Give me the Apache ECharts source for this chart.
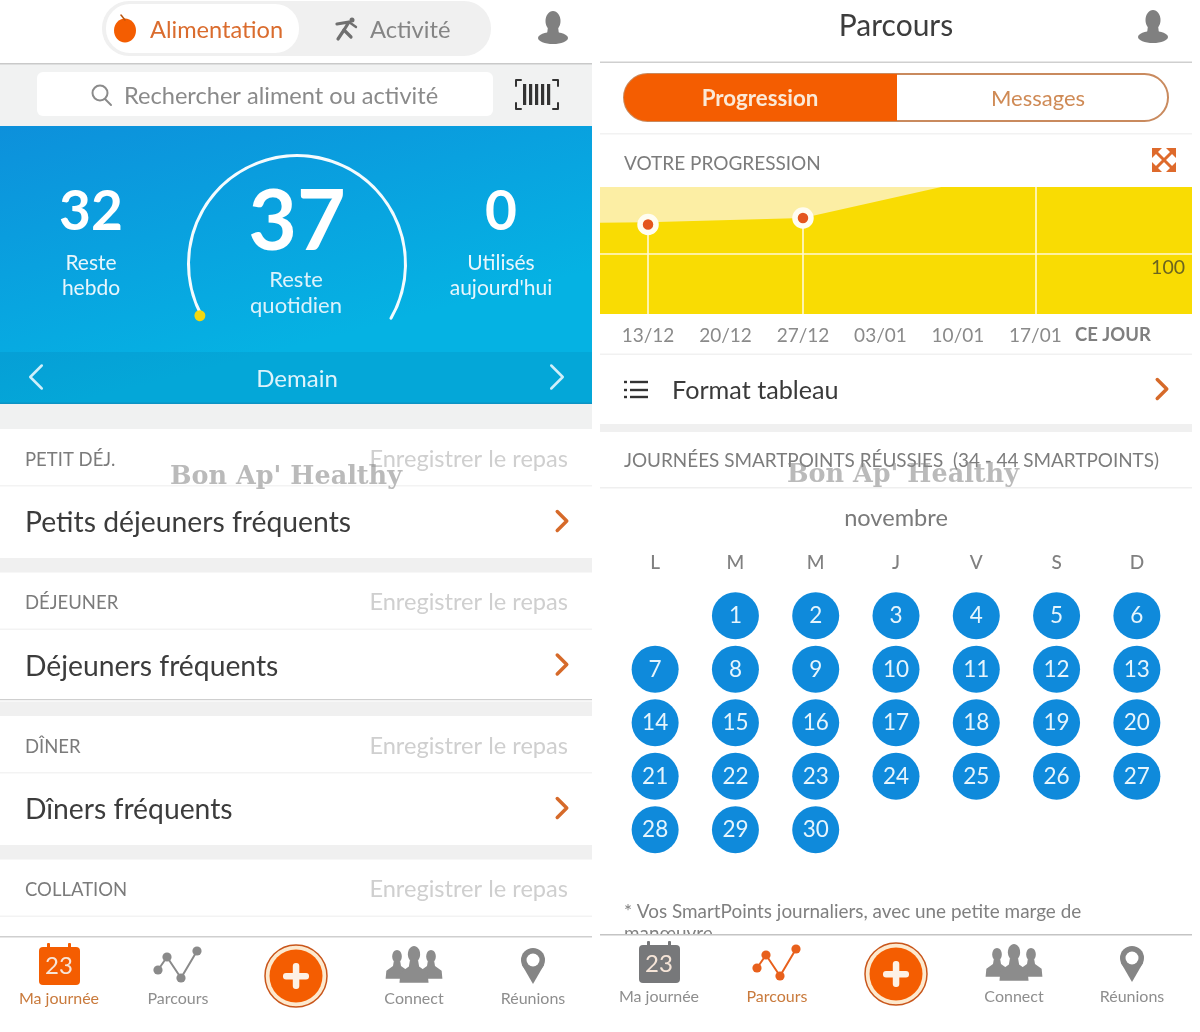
<!DOCTYPE html>
<html lang="fr"><head><meta charset="utf-8"><title>Suivi</title>
<style>html,body{margin:0;padding:0;background:#fff}#c{width:1200px;height:1032px}</style>
<script src="https://cdn.jsdelivr.net/npm/echarts@6/dist/echarts.min.js"></script></head>
<body><div id="c"></div><script>
// ---------- data ----------
const progressDays = [-4.34, 0, 14, 26.5, 49.15];
const progressValues = [126, 126.5, 130, 155.8, 155.8];
const weighDays = [0, 14];
const weighValues = [124.6, 130];
const tickDays = [0, 7, 14, 21, 28, 35, 42];
const tickLabels = ['13/12', '20/12', '27/12', '03/01', '10/01', '17/01', 'CE JOUR'];
const todayMarkDay = [35];
const refValues = [100];
const weekdays = ['L', 'M', 'M', 'J', 'V', 'S', 'D'];
const weekRows = ['s1', 's2', 's3', 's4', 's5'];
const monthWeeks = [
  [null, 1, 2, 3, 4, 5, 6],
  [7, 8, 9, 10, 11, 12, 13],
  [14, 15, 16, 17, 18, 19, 20],
  [21, 22, 23, 24, 25, 26, 27],
  [28, 29, 30, null, null, null, null]
];
const remainingDaily = 37, usedToday = 0;
const sideStats = [['32', 'Reste', 'hebdo', 91], ['0', 'Utilisés', "aujourd'hui", 501]];
const meals = ['PETIT DÉJ.', 'DÉJEUNER', 'DÎNER', 'COLLATION'];
const mealRows = ['Petits déjeuners fréquents', 'Déjeuners fréquents', 'Dîners fréquents'];
const navLabels = ['Ma journée', 'Parcours', 'Connect', 'Réunions'];

// ---------- chrome helpers ----------
const FONT = 'Lato', OR = '#F45D01', TXT = '#DA6C2E', G = '#808080';
const els = [];
const T = (text, x, y, size, fill, align, weight, z, font) => els.push({type:'text', z:z||5, style:{text, x, y:y+1, fontSize:size, fill,
  fontFamily:font||FONT, fontWeight:weight||'normal', align:align||'left', verticalAlign:'middle'}});
const R = (x, y, w, h, fill, r, z, stroke, lw) => els.push({type:'rect', z:z||1, shape:{x, y, width:w, height:h, r:r||0}, style:{fill, stroke, lineWidth:lw}});
const C = (cx, cy, r, fill, z, stroke, lw) => els.push({type:'circle', z:z||4, shape:{cx, cy, r}, style:{fill, stroke, lineWidth:lw}});
const E = (cx, cy, rx, ry, fill, z) => els.push({type:'ellipse', z:z||4, shape:{cx, cy, rx, ry}, style:{fill}});
const PG = (points, fill, z, smooth) => els.push({type:'polygon', z:z||4, shape:{points, smooth:smooth||0}, style:{fill}});
const PL = (points, stroke, lw, z) => els.push({type:'polyline', z:z||4, shape:{points}, style:{fill:'none', stroke, lineWidth:lw, lineCap:'round', lineJoin:'round'}});
const chevron = (x, y, col, s, lw, left) => { const d = left ? -1 : 1; PL([[x - d * s * .5, y - s], [x + d * s * .5, y], [x - d * s * .5, y + s]], col, lw, 5); };
function avatar(cx, top) {
  E(cx, top + 10, 7.5, 10, G); PG([[cx-5,top+16],[cx+5,top+16],[cx+6,top+23],[cx-6,top+23]], G);
  E(cx, top + 27, 15, 6, G);
}
function person(cx, top, s, col, sw) {
  const w = sw || 1;
  E(cx, top + 8 * s, 6 * s, 8 * s, col, 6);
  PG([[cx-4*s,top+14*s],[cx+4*s,top+14*s],[cx+5*s,top+20*s],[cx+14*w*s,top+26*s],[cx+15*w*s,top+36*s],[cx-15*w*s,top+36*s],[cx-14*w*s,top+26*s],[cx-5*s,top+20*s]], col, 6);
}
function nav(cs, labelY, dy, active) {
  const [c1, c2, c3, c4, c5] = cs;
  const c0 = active === 0 ? OR : '#77787A', c1col = active === 1 ? '#E8601C' : '#8A8A8A';
  // calendar
  R(c1 - 20, 947 + dy, 41, 38, c0, 4, 4);
  R(c1 - 12, 943 + dy, 3, 7, c0, 1, 4); R(c1 + 9, 943 + dy, 3, 7, c0, 1, 4);
  T('23', c1, 965 + dy, 24, '#F6E5D8', 'center');
  // nodes
  const n = [[c2-20,970],[c2-11,957],[c2+3,978],[c2+19,951]].map(p => [p[0], p[1] + dy]);
  PL(n, c1col, 2, 4); n.forEach(p => C(p[0], p[1], 4.6, c1col));
  // add
  C(c3, 976 + dy, 31, '#FDE9CE', 4, '#C9561B', 1.5); C(c3, 976 + dy, 26.5, OR, 5);
  R(c3 - 13, 973 + dy, 26, 6.5, '#FDF1E6', 3, 6); R(c3 - 3.2, 963 + dy, 6.5, 26, '#FDF1E6', 3, 6);
  // people
  person(c4 - 17, 950 + dy, .8, '#8C8C8C', .95); person(c4 + 17, 950 + dy, .8, '#8C8C8C', .95);
  person(c4, 946 + dy, 1.02, '#8C8C8C', .95);
  // pin
  C(c5, 960 + dy, 12, '#858585'); PG([[c5-11,965+dy],[c5+11,965+dy],[c5,984+dy]], '#858585'); C(c5, 960 + dy, 6.5, '#fff', 5);
  const xs = [c1, c2, c4, c5];
  navLabels.forEach((l, i) => T(l, xs[i], labelY, 16, i === active ? '#C97A3C' : '#8E8E8E', 'center'));
}

// ---------- left panel ----------
R(102, 1, 389, 55, '#F0F0F0', 27); R(106, 4, 193, 49, '#fff', 24, 2);
E(125, 30.5, 11, 12, OR); PL([[125,20],[121,15]], '#B8540F', 1.5);
T('Alimentation', 150, 29, 23.6, TXT);
C(352, 20, 2.5, '#6f6f6f'); PL([[337,24],[349,22],[344,30],[351,37]], '#6f6f6f', 3.2); PL([[344,30],[338,39]], '#6f6f6f', 3.2); PL([[349,22],[356,27]], '#6f6f6f', 2.4);
T('Activité', 370, 29, 23.7, '#858585');
avatar(553, 11);
R(0, 64, 592, 62, '#F1F2F2'); R(0, 63, 592, 1.5, '#C9C9C9', 0, 2);
R(37, 72, 456, 44, '#fff', 6, 2);
C(100, 93, 7.5, 'none', 4, '#8b8b8b', 2); PL([[105,99],[111,105]], '#8b8b8b', 2);
T('Rechercher aliment ou activité', 124, 95, 23.6, '#8A8A8A');
PL([[521,80],[516,80],[516,86]], '#333', 2);
PL([[553,80],[558,80],[558,86]], '#333', 2); PL([[516,103],[516,109],[521,109]], '#333', 2); PL([[558,103],[558,109],[553,109]], '#333', 2);
[523, 529, 535, 541, 547].forEach(x => R(x, 84, 3.2, 21, '#333', 0, 3));
R(0, 126, 592, 278, new echarts.graphic.LinearGradient(0, 0, .12, 1, [{offset:0, color:'#0D90DB'}, {offset:1, color:'#05B2E3'}]));
R(0, 352, 592, 52, 'rgba(0,90,150,0.13)', 0, 1);
R(0, 402.5, 592, 1.5, '#0C93C4', 0, 2);
sideStats.forEach(s => {
  T(s[0], s[3], 211, 55, '#fff', 'center', 'bold');
  T(s[1], s[3], 262, 21, '#E8F6FC', 'center'); T(s[2], s[3], 287, 21, '#E8F6FC', 'center');
});
T('Reste', 296, 279, 22, '#DDF2FB', 'center'); T('quotidien', 296, 305, 22, '#DDF2FB', 'center');
T('Demain', 297, 378, 24, '#DDF3FB', 'center');
chevron(36, 377, '#CFEFFA', 11.5, 2.5, true); chevron(557, 377, '#CFEFFA', 11.5, 2.5);
R(0, 404, 592, 25, '#F0F1F1');
const mealY = [458, 601.5, 745, 888.5];
meals.forEach((m, i) => {
  const y = mealY[i];
  T(m, 25, y + 1, 18.5, '#7B7B7B');
  T('Enregistrer le repas', 568, y, 23.6, '#CFCFCF', 'right');
  R(0, y + 27, 592, 1.5, '#F3F3F3');
  if (i < 3) {
    T(mealRows[i], 25, y + 64, 28.3, '#3C3C3C');
    chevron(562, y + 63, '#D66A2A', 9.5, 3.5);
    R(0, y + 100, 592, 14.5, '#F0F0F0');
  }
});
R(0, 699, 592, 1.2, '#CFCFCF', 0, 2);
R(0, 936, 592, 1.5, '#CFCFCF', 0, 2);
nav([59, 178, 296, 414, 533], 998, 0, 0);

// ---------- right panel ----------
T('Parcours', 896, 25.5, 30, '#3D3D3D', 'center');
avatar(1153, 10);
R(600, 61.5, 592, 1.5, '#CFCFCF');
R(624, 74, 544, 47, '#fff', 23.5, 2, '#C98A5E', 2);
els.push({type:'rect', z:3, shape:{x:624, y:74, width:273, height:47, r:[23.5,0,0,23.5]}, style:{fill:OR}});
T('Progression', 760, 98, 22.3, '#FBE9D6', 'center', 'bold');
T('Messages', 1038, 98, 22, '#CF8A55', 'center');
R(600, 133, 592, 1.5, '#F2F2F2');
T('VOTRE PROGRESSION', 624, 163, 19, '#7C7C7C');
const ic = '#DE6A2C';
PL([[1156,152],[1172,168]], ic, 3); PL([[1172,152],[1156,168]], ic, 3);
PG([[1152,148],[1162,148],[1152,158]], ic); PG([[1176,148],[1166,148],[1176,158]], ic); PG([[1152,172],[1162,172],[1152,162]], ic); PG([[1176,172],[1166,172],[1176,162]], ic);
R(600, 353.5, 592, 1.5, '#F1F1F1');
[382, 390, 397].forEach(y => { R(624, y - 1.2, 3, 2.4, '#333', 0, 3); R(630, y - 1.2, 18, 2.4, '#333', 0, 3); });
T('Format tableau', 672, 390, 25.2, '#3A3A3A');
chevron(1162, 389, '#D66A2A', 9.5, 3.5);
R(600, 424, 592, 8, '#F0F0F0');
T('JOURNÉES SMARTPOINTS RÉUSSIES  (34 - 44 SMARTPOINTS)', 624, 459.5, 18.9, '#7C7C7C');
R(600, 487, 592, 1.5, '#EFEFEF');
T('novembre', 896, 517.5, 23.6, '#7A7A7A', 'center');
T('* Vos SmartPoints journaliers, avec une petite marge de', 624, 911, 18.9, '#808080');
T('manœuvre', 624, 933, 18.9, '#808080');
R(600, 934, 592, 98, '#fff', 0, 7);
R(600, 934, 592, 1.5, '#C4C4C4', 0, 8);
// nav right sits above the clipping band
const before = els.length;
nav([659, 777, 896, 1014, 1132], 996, -2, 1);
for (let i = before; i < els.length; i++) els[i].z = els[i].z + 8;
// watermarks
T("Bon Ap' Healthy", 286, 476, 25.5, 'rgba(140,140,140,0.6)', 'center', 'bold', 60, 'DejaVu Serif');
T("Bon Ap' Healthy", 903, 474, 25.5, 'rgba(140,140,140,0.6)', 'center', 'bold', 60, 'DejaVu Serif');

// ---------- chart ----------
const chart = echarts.init(document.getElementById('c'), null, {renderer:'canvas', width:1200, height:1032});
const calData = [];
monthWeeks.forEach((w, r) => w.forEach((d, c) => { if (d !== null) calData.push([c, r, d]); }));
const vline = (x, y0, y1) => [{coord:[x, y0]}, {coord:[x, y1]}];
chart.setOption({
  animation:false, backgroundColor:'#fff',
  textStyle:{fontFamily:FONT},
  graphic:{elements:els},
  grid:[
    {left:600, top:187, width:592, height:127, show:true, backgroundColor:'#FCEEA4', borderWidth:0, containLabel:false},
    {left:615, top:589, width:562, height:267.5, show:false}
  ],
  xAxis:[
    {type:'value', gridIndex:0, min:-4.34, max:49.15, axisLine:{show:false}, axisTick:{show:false}, splitLine:{show:false},
     axisLabel:{customValues:tickDays, margin:12, fontSize:19, color:'#8A8A8A', showMinLabel:true, showMaxLabel:true,
       formatter:v => { const l = tickLabels[tickDays.indexOf(v)]; return l === 'CE JOUR' ? '{b|' + l + '}' : l; },
       rich:{b:{fontSize:18.5, fontWeight:'bold', color:'#7F7F7F', fontFamily:FONT}}}},
    {type:'category', gridIndex:1, position:'top', data:weekdays, axisLine:{show:false}, axisTick:{show:false}, splitLine:{show:false},
     axisLabel:{interval:0, margin:17, fontSize:19, color:'#808080', fontWeight:500}}
  ],
  yAxis:[
    {type:'value', gridIndex:0, z:10, min:50, max:155.83, position:'right', axisLine:{show:false}, axisTick:{show:false}, splitLine:{show:false},
     axisLabel:{customValues:refValues, inside:true, margin:7, fontSize:19.5, color:'#6B6420', verticalAlign:'top', lineHeight:20, padding:[4,0,0,0]}},
    {type:'category', gridIndex:1, inverse:true, data:weekRows, axisLine:{show:false}, axisTick:{show:false}, axisLabel:{show:false}, splitLine:{show:false}}
  ],
  series:[
    {type:'line', xAxisIndex:0, yAxisIndex:0, data:progressDays.map((d, i) => [d, progressValues[i]]), showSymbol:false, z:3, silent:true,
     lineStyle:{width:0}, areaStyle:{color:'#F9DC03', opacity:1, origin:'start'},
     markLine:{silent:true, symbol:'none', animation:false, label:{show:false}, lineStyle:{color:'#FFF9D6', type:'solid', width:1.6},
       data:[
         [{coord:[-4.34, refValues[0]]}, {coord:[49.15, refValues[0]]}],
         vline(weighDays[0], 50, weighValues[0]), vline(weighDays[1], 50, weighValues[1]),
         vline(todayMarkDay[0], 50, 155.83)
       ]}},
    {type:'scatter', xAxisIndex:0, yAxisIndex:0, z:6, data:weighDays.map((d, i) => [d, weighValues[i]]), symbolSize:16,
     itemStyle:{color:'#E4561E', borderColor:'#FFFDF2', borderWidth:5.5, opacity:1}},
    {type:'scatter', xAxisIndex:1, yAxisIndex:1, z:6, data:calData, symbolSize:47, itemStyle:{color:'#0F8ADB', opacity:1},
     label:{show:true, position:'inside', formatter:p => p.value[2], color:'#E6F5FD', fontSize:22.5, fontFamily:FONT}},
    {type:'gauge', center:[297, 264], radius:110, startAngle:208, endAngle:-30, min:0, max:remainingDaily, z:5,
     axisLine:{roundCap:true, lineStyle:{width:3, color:[[1, '#F4FBFE']]}}, progress:{show:false},
     axisTick:{show:false}, splitLine:{show:false}, axisLabel:{show:false},
     pointer:{icon:'circle', length:11, width:15, offsetCenter:[0, '-95%'], itemStyle:{color:'#F2D80E'}},
     anchor:{show:false}, title:{show:false},
     detail:{show:true, offsetCenter:[0, -41], fontSize:84, fontWeight:'bold', color:'#fff', fontFamily:FONT, formatter:() => String(remainingDaily)},
     data:[{value:usedToday}]}
  ]
});
</script></body></html>
